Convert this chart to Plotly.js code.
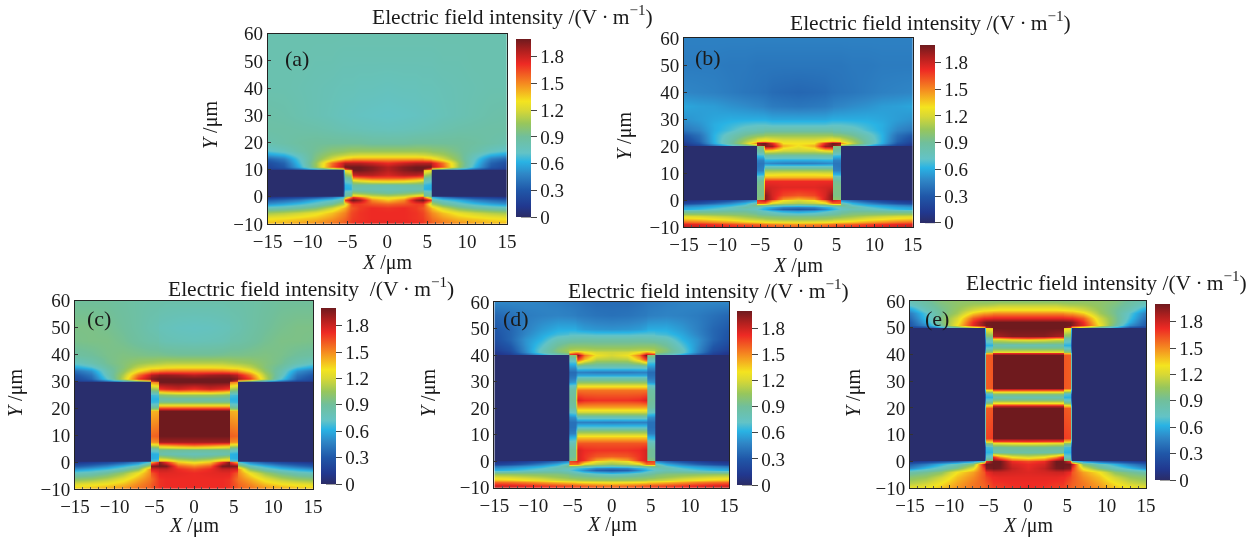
<!DOCTYPE html>
<html><head><meta charset="utf-8">
<script src="https://cdn.plot.ly/plotly-3.0.1.min.js"></script>
<style>html,body{margin:0;padding:0;background:#fff}#p{width:1257px;height:537px;filter:blur(0.35px)}</style>
</head><body><div id="p"></div>
<script>
const W=1257,H=537;
const xHalf=[0,2,3.5,4.4,4.6,5.4,5.6,7,9,11,13,15];
const colorTicks=[0,0.3,0.6,0.9,1.2,1.5,1.8];
const colorValues=[0,0.12,0.3,0.48,0.62,0.72,0.9,1.05,1.2,1.3,1.5,1.72,1.86,2];
const colorHex=['#2b2c66','#21388f','#2057a8','#2f86c6','#29b3e4','#63c3c6','#70bf9c','#97c65c','#d8d835','#f4e41f','#f58a20','#ee2a24','#b3201f','#6f1a1e'];
const labels=['(a)','(b)','(c)','(d)','(e)'];
const labelX=[-13.1,-13.8,-13.7,-14.2,-13.35];
const labelY=[51,52.6,53.2,53.6,53.3];

const yA=[-10,-8,-6,-4,-2.5,-1.2,-0.03,0.03,1.5,3,4.5,5.5,7,8,9.97,10.03,11,12.5,14,15.5,17,20,25,30,40,50,60];
const zA=[
[1.74,1.74,1.72,1.70,1.68,1.62,1.60,1.55,1.50,1.46,1.42,1.40],
[1.72,1.72,1.70,1.68,1.66,1.58,1.56,1.48,1.40,1.36,1.32,1.30],
[1.72,1.72,1.70,1.66,1.64,1.52,1.50,1.38,1.26,1.18,1.12,1.08],
[1.70,1.72,1.68,1.62,1.60,1.42,1.38,1.18,0.98,0.88,0.82,0.78],
[1.58,1.62,1.68,1.68,1.62,1.20,1.10,0.90,0.76,0.66,0.58,0.52],
[1.36,1.50,1.90,2.00,1.95,1.70,0.85,0.70,0.60,0.46,0.38,0.32],
[1.22,1.28,1.55,1.70,1.50,1.00,0.62,0.42,0.28,0.20,0.15,0.10],
[1.18,1.24,1.40,1.45,0.95,0.90,0.02,0.02,0.02,0.02,0.02,0.02],
[0.90,0.95,1.00,1.05,0.85,0.80,0.02,0.02,0.02,0.02,0.02,0.02],
[0.78,0.80,0.80,0.80,0.62,0.60,0.02,0.02,0.02,0.02,0.02,0.02],
[0.84,0.86,0.88,0.90,0.65,0.62,0.02,0.02,0.02,0.02,0.02,0.02],
[1.25,1.22,1.15,1.08,0.75,0.70,0.02,0.02,0.02,0.02,0.02,0.02],
[1.62,1.62,1.55,1.50,0.92,0.85,0.02,0.02,0.02,0.02,0.02,0.02],
[1.78,1.85,1.85,1.80,1.10,1.00,0.02,0.02,0.02,0.02,0.02,0.02],
[1.85,1.95,2.00,2.00,1.40,1.30,0.02,0.02,0.02,0.02,0.02,0.02],
[1.85,1.95,2.00,2.00,1.95,1.60,0.80,0.65,0.50,0.30,0.16,0.14],
[1.85,1.95,2.00,2.00,2.00,2.00,1.85,1.60,1.05,0.62,0.30,0.20],
[1.72,1.80,1.85,1.85,1.85,1.85,1.80,1.55,1.05,0.68,0.35,0.25],
[1.45,1.45,1.45,1.45,1.42,1.38,1.35,1.20,0.98,0.72,0.45,0.35],
[1.20,1.20,1.20,1.18,1.18,1.15,1.14,1.08,0.95,0.78,0.62,0.55],
[1.05,1.05,1.05,1.05,1.05,1.03,1.02,1.00,0.92,0.85,0.76,0.70],
[0.88,0.88,0.90,0.90,0.90,0.90,0.90,0.90,0.90,0.88,0.85,0.82],
[0.76,0.77,0.78,0.79,0.79,0.80,0.80,0.82,0.84,0.85,0.86,0.86],
[0.72,0.73,0.74,0.75,0.75,0.76,0.76,0.78,0.80,0.82,0.84,0.85],
[0.76,0.77,0.77,0.78,0.78,0.78,0.78,0.79,0.80,0.81,0.82,0.82],
[0.80,0.80,0.80,0.80,0.80,0.80,0.80,0.81,0.81,0.82,0.82,0.82],
[0.82,0.82,0.82,0.82,0.82,0.82,0.82,0.82,0.82,0.82,0.82,0.82]];

const yB=[-10,-9,-8,-7,-6,-5,-4.2,-3.5,-2.7,-1.9,-1.2,-0.03,0.03,2,5,7,8.5,9.8,11,12.5,13.7,15,16.5,18,19.97,20.03,21,22,24,26,28,30,35,40,50,60];
const zB=[
[1.62,1.64,1.66,1.68,1.70,1.72,1.72,1.74,1.76,1.80,1.82,1.84],
[1.48,1.50,1.52,1.55,1.55,1.58,1.58,1.60,1.65,1.70,1.74,1.76],
[1.25,1.26,1.28,1.30,1.32,1.34,1.34,1.38,1.45,1.50,1.55,1.58],
[1.05,1.06,1.08,1.10,1.12,1.14,1.14,1.18,1.25,1.30,1.35,1.38],
[0.94,0.94,0.96,0.98,0.98,1.00,1.02,1.06,1.12,1.16,1.20,1.22],
[0.75,0.78,0.84,0.88,0.88,0.92,0.94,0.98,1.00,1.02,1.04,1.05],
[0.55,0.60,0.68,0.75,0.76,0.82,0.84,0.90,0.90,0.88,0.86,0.85],
[0.30,0.34,0.48,0.60,0.62,0.72,0.74,0.80,0.78,0.72,0.65,0.60],
[0.45,0.48,0.60,0.66,0.68,0.76,0.78,0.85,0.72,0.64,0.58,0.55],
[0.78,0.82,0.90,0.96,0.98,1.00,0.95,0.72,0.62,0.55,0.48,0.42],
[1.10,1.15,1.25,1.55,1.58,1.60,0.80,0.62,0.48,0.36,0.26,0.20],
[1.20,1.30,1.55,1.85,1.80,1.70,0.50,0.38,0.25,0.16,0.10,0.08],
[1.35,1.45,1.80,1.95,1.05,1.00,0.02,0.02,0.02,0.02,0.02,0.02],
[1.62,1.66,1.78,1.95,0.95,0.95,0.02,0.02,0.02,0.02,0.02,0.02],
[1.75,1.75,1.78,1.80,0.95,0.95,0.02,0.02,0.02,0.02,0.02,0.02],
[1.72,1.72,1.72,1.72,0.92,0.90,0.02,0.02,0.02,0.02,0.02,0.02],
[1.40,1.40,1.40,1.40,0.80,0.78,0.02,0.02,0.02,0.02,0.02,0.02],
[1.28,1.28,1.26,1.26,0.62,0.60,0.02,0.02,0.02,0.02,0.02,0.02],
[1.05,1.05,1.05,1.05,0.46,0.45,0.02,0.02,0.02,0.02,0.02,0.02],
[0.72,0.72,0.72,0.72,0.44,0.42,0.02,0.02,0.02,0.02,0.02,0.02],
[0.45,0.46,0.48,0.50,0.42,0.42,0.02,0.02,0.02,0.02,0.02,0.02],
[0.60,0.60,0.62,0.62,0.46,0.46,0.02,0.02,0.02,0.02,0.02,0.02],
[0.88,0.88,0.88,0.88,0.68,0.66,0.02,0.02,0.02,0.02,0.02,0.02],
[1.15,1.15,1.22,1.25,0.88,0.86,0.02,0.02,0.02,0.02,0.02,0.02],
[1.28,1.40,1.90,1.95,1.00,0.95,0.02,0.02,0.02,0.02,0.02,0.02],
[1.30,1.45,1.90,1.95,1.95,1.80,0.90,0.80,0.60,0.35,0.15,0.08],
[1.30,1.30,1.75,2.00,2.00,1.95,1.50,1.15,0.85,0.60,0.30,0.15],
[1.25,1.25,1.30,1.35,1.35,1.30,1.25,1.10,0.85,0.62,0.35,0.20],
[1.05,1.05,1.05,1.05,1.02,1.00,1.00,0.92,0.78,0.62,0.40,0.30],
[0.85,0.85,0.85,0.85,0.82,0.82,0.80,0.78,0.68,0.60,0.48,0.42],
[0.68,0.68,0.68,0.70,0.70,0.70,0.70,0.68,0.64,0.60,0.52,0.48],
[0.58,0.58,0.58,0.60,0.60,0.60,0.60,0.60,0.60,0.58,0.55,0.52],
[0.42,0.43,0.44,0.46,0.47,0.48,0.48,0.50,0.52,0.55,0.56,0.58],
[0.36,0.37,0.38,0.40,0.40,0.41,0.41,0.42,0.44,0.46,0.47,0.48],
[0.42,0.42,0.42,0.42,0.42,0.42,0.42,0.43,0.43,0.44,0.44,0.44],
[0.46,0.46,0.46,0.46,0.46,0.46,0.46,0.46,0.46,0.46,0.46,0.46]];

const yC=[-10,-8,-6,-4,-2.5,-1.2,-0.03,0.03,1.5,3.3,4.5,5.5,6.5,7.5,10,19,20,21.2,22.5,23.7,25,25.9,27.4,29.97,30.03,31,32.5,34,35.5,37,40,45,50,60];
const zC=[
[1.72,1.72,1.72,1.70,1.68,1.62,1.60,1.56,1.50,1.45,1.40,1.38],
[1.72,1.72,1.72,1.70,1.68,1.60,1.58,1.50,1.38,1.30,1.26,1.22],
[1.72,1.72,1.72,1.70,1.68,1.56,1.54,1.42,1.25,1.12,1.04,1.00],
[1.72,1.74,1.75,1.75,1.72,1.62,1.50,1.28,1.05,0.90,0.80,0.76],
[1.65,1.72,1.82,1.82,1.80,1.78,1.50,1.00,0.80,0.66,0.58,0.50],
[1.50,1.60,1.98,2.00,1.98,1.95,1.10,0.78,0.62,0.48,0.38,0.30],
[1.26,1.35,1.70,1.95,1.70,1.40,0.70,0.45,0.30,0.20,0.14,0.10],
[1.20,1.30,1.50,1.50,0.75,0.70,0.02,0.02,0.02,0.02,0.02,0.02],
[0.95,1.00,1.10,1.15,0.62,0.60,0.02,0.02,0.02,0.02,0.02,0.02],
[0.78,0.80,0.82,0.84,0.62,0.60,0.02,0.02,0.02,0.02,0.02,0.02],
[0.90,0.90,0.90,0.92,0.78,0.75,0.02,0.02,0.02,0.02,0.02,0.02],
[1.25,1.22,1.18,1.15,0.95,0.90,0.02,0.02,0.02,0.02,0.02,0.02],
[1.60,1.55,1.50,1.48,1.25,1.22,0.02,0.02,0.02,0.02,0.02,0.02],
[1.90,1.90,1.90,1.90,1.50,1.48,0.02,0.02,0.02,0.02,0.02,0.02],
[2.00,2.00,2.00,2.00,1.60,1.58,0.02,0.02,0.02,0.02,0.02,0.02],
[2.00,2.00,2.00,2.00,1.42,1.40,0.02,0.02,0.02,0.02,0.02,0.02],
[1.75,1.75,1.75,1.75,1.05,1.00,0.02,0.02,0.02,0.02,0.02,0.02],
[1.25,1.25,1.25,1.25,0.78,0.75,0.02,0.02,0.02,0.02,0.02,0.02],
[0.95,0.95,0.95,0.95,0.65,0.64,0.02,0.02,0.02,0.02,0.02,0.02],
[0.85,0.85,0.85,0.85,0.62,0.62,0.02,0.02,0.02,0.02,0.02,0.02],
[1.05,1.05,1.02,1.00,0.68,0.66,0.02,0.02,0.02,0.02,0.02,0.02],
[1.30,1.30,1.25,1.20,0.82,0.80,0.02,0.02,0.02,0.02,0.02,0.02],
[1.72,1.80,1.75,1.70,1.10,1.05,0.02,0.02,0.02,0.02,0.02,0.02],
[2.00,2.00,2.00,2.00,1.55,1.50,0.02,0.02,0.02,0.02,0.02,0.02],
[2.00,2.00,2.00,2.00,1.95,1.70,0.90,0.70,0.50,0.30,0.16,0.14],
[2.00,2.00,2.00,2.00,2.00,1.95,1.90,1.68,1.15,0.70,0.35,0.22],
[1.85,1.90,1.92,1.92,1.90,1.85,1.80,1.55,1.10,0.78,0.42,0.30],
[1.55,1.55,1.55,1.52,1.50,1.48,1.45,1.30,1.02,0.82,0.52,0.40],
[1.28,1.28,1.26,1.24,1.24,1.22,1.22,1.14,0.98,0.88,0.70,0.60],
[1.12,1.12,1.12,1.10,1.10,1.08,1.08,1.05,0.98,0.92,0.82,0.75],
[0.92,0.92,0.93,0.94,0.94,0.94,0.94,0.95,0.96,0.94,0.90,0.88],
[0.78,0.79,0.80,0.82,0.84,0.85,0.85,0.88,0.92,0.95,0.95,0.94],
[0.74,0.75,0.77,0.78,0.80,0.82,0.82,0.86,0.90,0.93,0.95,0.95],
[0.84,0.84,0.84,0.85,0.85,0.85,0.85,0.86,0.88,0.90,0.90,0.90]];

const yD=[-10,-9,-8,-7,-6,-5,-4.2,-3.5,-2.7,-1.9,-1.2,-0.03,0.03,2,4.2,7,9.2,10.5,11.7,13,14.9,16.8,18.6,20.5,23,26.8,28.7,30,31.2,32.5,33.7,36,38.6,39.97,40.03,41,42,44,46,48,50,55,60];
const zD=[
[1.64,1.66,1.68,1.70,1.70,1.72,1.72,1.74,1.76,1.80,1.82,1.84],
[1.50,1.52,1.55,1.58,1.58,1.60,1.60,1.62,1.66,1.70,1.74,1.76],
[1.26,1.28,1.30,1.32,1.34,1.36,1.36,1.40,1.46,1.52,1.56,1.58],
[1.05,1.06,1.08,1.10,1.12,1.14,1.14,1.18,1.25,1.30,1.35,1.38],
[0.92,0.94,0.96,0.98,0.98,1.00,1.02,1.06,1.12,1.16,1.20,1.22],
[0.72,0.76,0.84,0.88,0.88,0.92,0.94,0.98,1.00,1.02,1.04,1.05],
[0.52,0.58,0.66,0.74,0.76,0.82,0.84,0.90,0.90,0.88,0.86,0.85],
[0.30,0.34,0.50,0.62,0.64,0.72,0.74,0.80,0.76,0.70,0.64,0.60],
[0.45,0.48,0.62,0.68,0.70,0.76,0.78,0.82,0.70,0.62,0.56,0.52],
[0.78,0.82,0.90,0.95,0.96,0.98,0.92,0.72,0.60,0.52,0.46,0.40],
[1.05,1.12,1.22,1.55,1.55,1.58,0.78,0.60,0.46,0.34,0.24,0.18],
[1.20,1.28,1.55,1.75,1.70,1.65,0.48,0.36,0.24,0.15,0.10,0.08],
[1.30,1.42,1.70,1.78,1.00,0.95,0.02,0.02,0.02,0.02,0.02,0.02],
[1.60,1.62,1.70,1.78,0.92,0.90,0.02,0.02,0.02,0.02,0.02,0.02],
[1.70,1.70,1.72,1.78,0.92,0.90,0.02,0.02,0.02,0.02,0.02,0.02],
[1.62,1.62,1.62,1.62,0.80,0.78,0.02,0.02,0.02,0.02,0.02,0.02],
[1.36,1.36,1.36,1.36,0.62,0.60,0.02,0.02,0.02,0.02,0.02,0.02],
[1.12,1.12,1.12,1.12,0.46,0.45,0.02,0.02,0.02,0.02,0.02,0.02],
[0.95,0.95,0.95,0.95,0.42,0.42,0.02,0.02,0.02,0.02,0.02,0.02],
[0.70,0.70,0.70,0.70,0.40,0.40,0.02,0.02,0.02,0.02,0.02,0.02],
[0.45,0.46,0.46,0.46,0.40,0.40,0.02,0.02,0.02,0.02,0.02,0.02],
[0.80,0.80,0.80,0.80,0.52,0.50,0.02,0.02,0.02,0.02,0.02,0.02],
[1.18,1.18,1.18,1.18,0.75,0.72,0.02,0.02,0.02,0.02,0.02,0.02],
[1.45,1.45,1.45,1.45,0.88,0.86,0.02,0.02,0.02,0.02,0.02,0.02],
[1.70,1.70,1.72,1.78,0.92,0.90,0.02,0.02,0.02,0.02,0.02,0.02],
[1.55,1.55,1.55,1.55,0.88,0.86,0.02,0.02,0.02,0.02,0.02,0.02],
[1.22,1.22,1.22,1.22,0.72,0.70,0.02,0.02,0.02,0.02,0.02,0.02],
[1.02,1.02,1.02,1.02,0.55,0.52,0.02,0.02,0.02,0.02,0.02,0.02],
[0.82,0.82,0.82,0.82,0.44,0.44,0.02,0.02,0.02,0.02,0.02,0.02],
[0.58,0.58,0.58,0.58,0.40,0.40,0.02,0.02,0.02,0.02,0.02,0.02],
[0.44,0.44,0.46,0.46,0.38,0.38,0.02,0.02,0.02,0.02,0.02,0.02],
[0.82,0.82,0.82,0.84,0.55,0.55,0.02,0.02,0.02,0.02,0.02,0.02],
[1.12,1.14,1.40,1.70,0.80,0.78,0.02,0.02,0.02,0.02,0.02,0.02],
[1.20,1.28,1.55,2.00,1.00,0.98,0.02,0.02,0.02,0.02,0.02,0.02],
[1.20,1.28,1.50,1.95,1.90,1.85,0.85,0.75,0.55,0.30,0.14,0.08],
[1.18,1.20,1.30,1.45,1.45,1.30,1.05,0.95,0.75,0.48,0.22,0.12],
[1.10,1.10,1.12,1.12,1.12,1.10,1.08,0.98,0.75,0.50,0.26,0.16],
[0.95,0.95,0.96,0.96,0.96,0.96,0.95,0.88,0.68,0.52,0.32,0.22],
[0.85,0.85,0.85,0.84,0.84,0.82,0.82,0.78,0.62,0.52,0.36,0.26],
[0.68,0.68,0.70,0.70,0.70,0.70,0.68,0.66,0.58,0.48,0.36,0.28],
[0.52,0.53,0.55,0.58,0.60,0.60,0.60,0.60,0.54,0.46,0.36,0.30],
[0.40,0.41,0.43,0.44,0.45,0.46,0.46,0.47,0.46,0.44,0.40,0.36],
[0.38,0.38,0.40,0.42,0.42,0.43,0.43,0.45,0.47,0.48,0.48,0.48]];

const yE=[-10,-8,-6,-4,-2.5,-1.2,-0.03,0.03,1.7,3.6,5.5,6.7,7.5,8.6,20,20.6,21.7,23,24.2,25.2,26,27.3,39.8,40.4,41,42.3,43.6,45.4,46.2,47,49.97,50.03,51,52.3,53.5,55.4,56.7,58.5,60];
const zE=[
[1.72,1.70,1.68,1.66,1.66,1.60,1.58,1.55,1.48,1.38,1.30,1.26],
[1.72,1.72,1.70,1.70,1.68,1.62,1.60,1.54,1.44,1.30,1.18,1.12],
[1.74,1.74,1.74,1.72,1.72,1.66,1.62,1.50,1.38,1.18,1.05,1.00],
[1.76,1.78,1.80,1.80,1.78,1.72,1.62,1.45,1.30,1.02,0.92,0.85],
[1.74,1.82,1.98,2.00,1.98,1.95,1.70,1.25,0.95,0.78,0.65,0.48],
[1.72,1.78,2.00,2.00,2.00,2.00,1.85,1.00,0.78,0.62,0.45,0.32],
[1.65,1.72,2.00,2.00,1.95,1.70,0.75,0.50,0.34,0.24,0.16,0.10],
[1.60,1.66,1.95,2.00,1.10,1.05,0.02,0.02,0.02,0.02,0.02,0.02],
[1.22,1.30,1.50,1.75,0.78,0.75,0.02,0.02,0.02,0.02,0.02,0.02],
[0.85,0.85,0.85,0.85,0.62,0.62,0.02,0.02,0.02,0.02,0.02,0.02],
[0.92,0.92,0.90,0.90,0.68,0.66,0.02,0.02,0.02,0.02,0.02,0.02],
[1.30,1.28,1.25,1.25,1.05,1.02,0.02,0.02,0.02,0.02,0.02,0.02],
[1.72,1.70,1.70,1.70,1.40,1.38,0.02,0.02,0.02,0.02,0.02,0.02],
[2.00,2.00,2.00,2.00,1.68,1.66,0.02,0.02,0.02,0.02,0.02,0.02],
[2.00,2.00,2.00,2.00,1.62,1.60,0.02,0.02,0.02,0.02,0.02,0.02],
[1.85,1.85,1.85,1.85,1.40,1.38,0.02,0.02,0.02,0.02,0.02,0.02],
[1.30,1.30,1.30,1.30,1.00,0.98,0.02,0.02,0.02,0.02,0.02,0.02],
[0.98,0.98,0.98,0.98,0.75,0.74,0.02,0.02,0.02,0.02,0.02,0.02],
[0.82,0.82,0.82,0.82,0.62,0.62,0.02,0.02,0.02,0.02,0.02,0.02],
[0.98,0.98,0.98,0.98,0.70,0.68,0.02,0.02,0.02,0.02,0.02,0.02],
[1.25,1.25,1.25,1.25,1.02,1.00,0.02,0.02,0.02,0.02,0.02,0.02],
[2.00,2.00,2.00,2.00,1.62,1.60,0.02,0.02,0.02,0.02,0.02,0.02],
[2.00,2.00,2.00,2.00,1.62,1.60,0.02,0.02,0.02,0.02,0.02,0.02],
[1.75,1.75,1.75,1.75,1.40,1.38,0.02,0.02,0.02,0.02,0.02,0.02],
[1.25,1.25,1.25,1.25,1.05,1.02,0.02,0.02,0.02,0.02,0.02,0.02],
[0.95,0.95,0.95,0.95,0.75,0.72,0.02,0.02,0.02,0.02,0.02,0.02],
[0.82,0.82,0.84,0.84,0.62,0.62,0.02,0.02,0.02,0.02,0.02,0.02],
[1.22,1.20,1.15,1.15,0.78,0.76,0.02,0.02,0.02,0.02,0.02,0.02],
[1.65,1.60,1.50,1.50,0.88,0.86,0.02,0.02,0.02,0.02,0.02,0.02],
[1.95,1.95,1.90,1.88,1.00,0.98,0.02,0.02,0.02,0.02,0.02,0.02],
[2.00,2.00,2.00,2.00,1.35,1.30,0.02,0.02,0.02,0.02,0.02,0.02],
[2.00,2.00,2.00,2.00,2.00,1.80,1.20,0.95,0.72,0.50,0.20,0.14],
[2.00,2.00,2.00,2.00,2.00,2.00,1.95,1.75,1.30,0.90,0.50,0.30],
[2.00,2.00,2.00,2.00,2.00,1.98,1.95,1.72,1.25,0.95,0.60,0.32],
[1.75,1.75,1.75,1.75,1.74,1.72,1.72,1.60,1.20,0.95,0.66,0.38],
[1.50,1.50,1.50,1.50,1.48,1.45,1.45,1.35,1.08,0.92,0.70,0.45],
[1.32,1.32,1.32,1.30,1.30,1.28,1.28,1.20,1.05,0.92,0.78,0.55],
[1.15,1.15,1.15,1.12,1.12,1.10,1.10,1.08,1.02,0.95,0.85,0.72],
[1.00,1.00,1.00,1.00,1.00,1.00,1.00,1.02,1.02,0.98,0.88,0.80]];

const yData=[yA,yB,yC,yD,yE];
const zData=[zA,zB,zC,zD,zE];
const plotBoxes=[[267.7,507,33.7,224],[684,912.7,38,227],[75,313,300.7,489],[494.3,729,302,487.7],[910,1146,301,488]];
const barBoxes=[[516,38.7,217],[920,45,222.7],[321,307.7,484],[737,310.7,485],[1155,304,480]];
const titleSpots=[[512,16],[931,21],[311,287],[708,289],[1106,281]];
const xTitleY=[262,265,525,524,525];
const yTitleX=[210,625,15,428,853];
const yTitleY=[125,136,393,393,393];
const titleMain=['Electric field intensity /(V','Electric field intensity /(V','Electric field intensity\u00a0 /(V','Electric field intensity /(V','Electric field intensity /(V'];
const titleEnd='\u2009·\u2009m<sup>−1</sup>)';
const font='"Liberation Serif",serif';

const xFull=xHalf.slice(1).reverse().map(v=>-v).concat(xHalf);
const mirror=r=>r.slice(1).reverse().concat(r);
const scale=colorValues.map((v,i)=>[v/2,colorHex[i]]);
const fx=v=>v/W, fy=v=>1-v/H;

const traces=[],annotations=[],shapes=[];
const layout={width:W,height:H,margin:{l:0,r:0,t:0,b:0},paper_bgcolor:'#fff',plot_bgcolor:'#fff',showlegend:false,font:{family:font,size:19,color:'#1a1a1a'}};
plotBoxes.forEach((b,i)=>{
  const s=i===0?'':String(i+1);
  const bar=barBoxes[i];
  const thick=15;
  traces.push({type:'heatmap',x:xFull,y:yData[i],z:zData[i].map(mirror),xaxis:'x'+s,yaxis:'y'+s,zmin:0,zmax:2,zsmooth:'best',colorscale:scale,hoverinfo:'skip',
    colorbar:{x:fx(bar[0]),xanchor:'left',xpad:0,y:fy(bar[2]),yanchor:'bottom',ypad:0,len:bar[2]-bar[1],lenmode:'pixels',thickness:thick,thicknessmode:'pixels',outlinewidth:0,
      tickvals:colorTicks,ticktext:colorTicks.map(String),ticks:'outside',ticklen:6,tickcolor:'#444',tickwidth:1,tickfont:{family:font,size:19,color:'#1a1a1a'}}});
  const common={showgrid:false,zeroline:false,mirror:true,showline:true,linecolor:'#222',linewidth:1,ticks:'inside',ticklen:3,tickcolor:'#333',tickfont:{family:font,size:19,color:'#1a1a1a'}};
  layout['xaxis'+s]=Object.assign({},common,{domain:[fx(b[0]),fx(b[1])],range:[-15,15],tickmode:'array',tickvals:[-15,-10,-5,0,5,10,15],anchor:'y'+s,minor:{ticks:'inside',ticklen:2,dtick:1,tickcolor:'#555'}});
  layout['yaxis'+s]=Object.assign({},common,{domain:[fy(b[3]),fy(b[2])],range:[-10,60],tickmode:'array',tickvals:[-10,0,10,20,30,40,50,60],anchor:'x'+s});
  annotations.push({xref:'paper',yref:'paper',x:fx(titleSpots[i][0]),y:fy(titleSpots[i][1]),text:titleMain[i]+titleEnd,showarrow:false,xanchor:'center',yanchor:'middle',font:{family:font,size:21.5,color:'#1a1a1a'}});
  annotations.push({xref:'paper',yref:'paper',x:fx((b[0]+b[1])/2),y:fy(xTitleY[i]),text:'<i>X</i> /μm',showarrow:false,xanchor:'center',yanchor:'middle',font:{family:font,size:20,color:'#1a1a1a'}});
  annotations.push({xref:'paper',yref:'paper',x:fx(yTitleX[i]),y:fy(yTitleY[i]),text:'<i>Y</i> /μm',textangle:-90,showarrow:false,xanchor:'center',yanchor:'middle',font:{family:font,size:20,color:'#1a1a1a'}});
  annotations.push({xref:'x'+s,yref:'y'+s,x:labelX[i],y:labelY[i],text:labels[i],showarrow:false,xanchor:'left',yanchor:'middle',font:{family:font,size:22,color:'#1a1a1a'}});
  colorTicks.forEach(t=>{
    const py=bar[2]-(bar[2]-bar[1])*t/2;
    shapes.push({type:'line',xref:'paper',yref:'paper',x0:fx(bar[0]+5),x1:fx(bar[0]+thick),y0:fy(py),y1:fy(py),line:{color:'#444',width:1}});
  });
});
layout.annotations=annotations;layout.shapes=shapes;
Plotly.newPlot('p',traces,layout,{displayModeBar:false,staticPlot:true});
</script></body></html>
